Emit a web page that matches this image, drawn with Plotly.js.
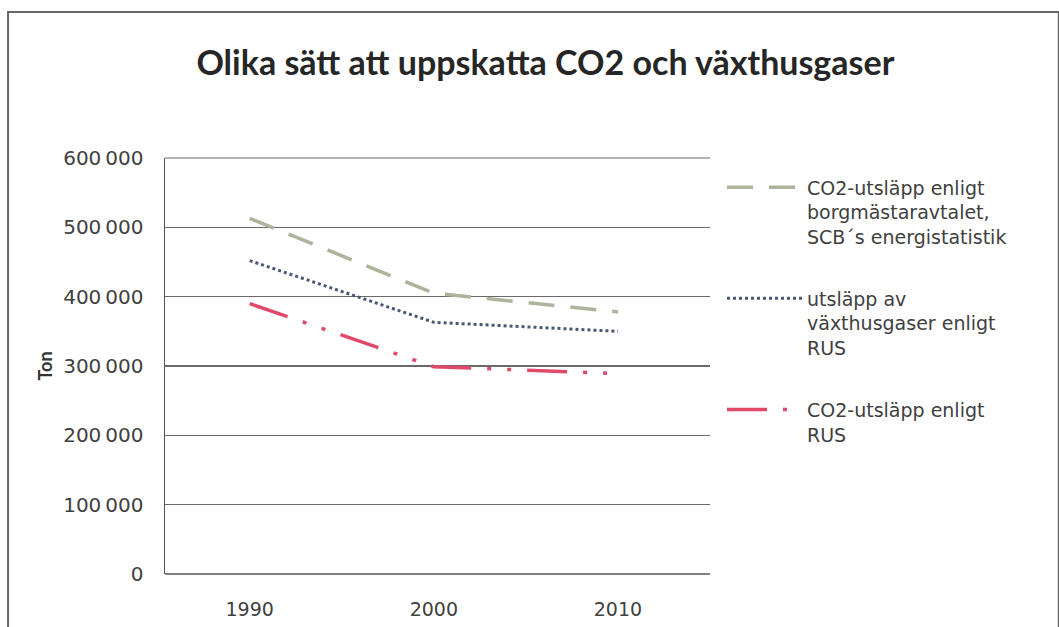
<!DOCTYPE html>
<html>
<head>
<meta charset="utf-8">
<script src="https://cdn.plot.ly/plotly-3.0.1.min.js"></script>
<style>html,body{margin:0;padding:0;background:#fff;}#chart{width:1059px;height:627px;}</style>
</head>
<body>
<div id="chart"></div>
<script>
const years = ["1990", "2000", "2010"];
const co2Borgmastar = [513000, 405000, 378000];
const vaxthusRUS = [452000, 363000, 350000];
const co2RUS = [390000, 299000, 289000];
const seriesNames = [
  "CO2-utsläpp enligt<br>borgmästaravtalet,<br>SCB´s energistatistik",
  "utsläpp av<br>växthusgaser enligt<br>RUS",
  "CO2-utsläpp enligt<br>RUS"
];
const yTicks = [0, 100000, 200000, 300000, 400000, 500000, 600000];

const font = "'DejaVu Sans', 'Open Sans', sans-serif";
const titleFont = "Lato, 'Open Sans', sans-serif";

const traces = [
  {x: years, y: co2Borgmastar, name: seriesNames[0], legendgroup: "a", type: "scatter", mode: "lines",
   line: {color: "#acb59c", width: 3.5, dash: "26px,16px"}},
  {x: years, y: vaxthusRUS, name: seriesNames[1], legendgroup: "b", type: "scatter", mode: "lines",
   line: {color: "#4b5874", width: 3, dash: "dot"}},
  {x: years, y: co2RUS, name: seriesNames[2], legendgroup: "c", type: "scatter", mode: "lines",
   line: {color: "#e04a68", width: 3.5, dash: "40px,16px,4px,16px,4px,16px"}}
];

const layout = {
  width: 1059, height: 627,
  margin: {l: 165, r: 349, t: 158, b: 53},
  paper_bgcolor: "#ffffff", plot_bgcolor: "#ffffff",
  font: {family: font, color: "#404040", size: 19},
  separators: ",\u2009",
  title: {text: "Olika sätt att uppskatta CO2 och växthusgaser",
          font: {family: titleFont, size: 34, color: "#262626", weight: "bold"},
          x: 0.515, xanchor: "center", y: 0.9, yanchor: "middle"},
  xaxis: {type: "category", range: [-0.46, 2.5], showgrid: false, zeroline: false,
          showline: false, ticks: "", tickfont: {size: 19, color: "#404040"}, ticklabelstandoff: 22,
          fixedrange: true},
  yaxis: {range: [0, 600000], tickvals: yTicks, tickformat: ",d", showgrid: true,
          gridcolor: "#6a6a6a", gridwidth: 1.2, zeroline: false, showline: true,
          linecolor: "#555", linewidth: 1.5, ticks: "", tickfont: {size: 20, color: "#404040"},
          ticklabelstandoff: 16,
          title: {text: "Ton", font: {family: titleFont, size: 18, color: "#333", weight: "bold"}, standoff: 6}},
  legend: {x: 1.022, xanchor: "left", y: 0.975, yanchor: "top", bgcolor: "rgba(0,0,0,0)",
           font: {size: 19, color: "#404040"}, tracegroupgap: 34, valign: "top", itemwidth: 75},
  showlegend: true,
  shapes: [
    {type: "line", xref: "paper", yref: "paper", x0: 0, x1: 1, y0: 0, y1: 0,
     line: {color: "#555", width: 1.5}},
    {type: "line", xref: "paper", yref: "paper", x0: 0, x1: 1, y0: 1, y1: 1,
     line: {color: "#6a6a6a", width: 1.2}},
    {type: "rect", xref: "paper", yref: "paper", x0: -0.288, x1: 1.64, y0: -0.16, y1: 1.351,
     line: {color: "#666", width: 2}, layer: "below"}
  ]
};

Plotly.newPlot("chart", traces, layout, {displayModeBar: false, staticPlot: true});
</script>
</body>
</html>
